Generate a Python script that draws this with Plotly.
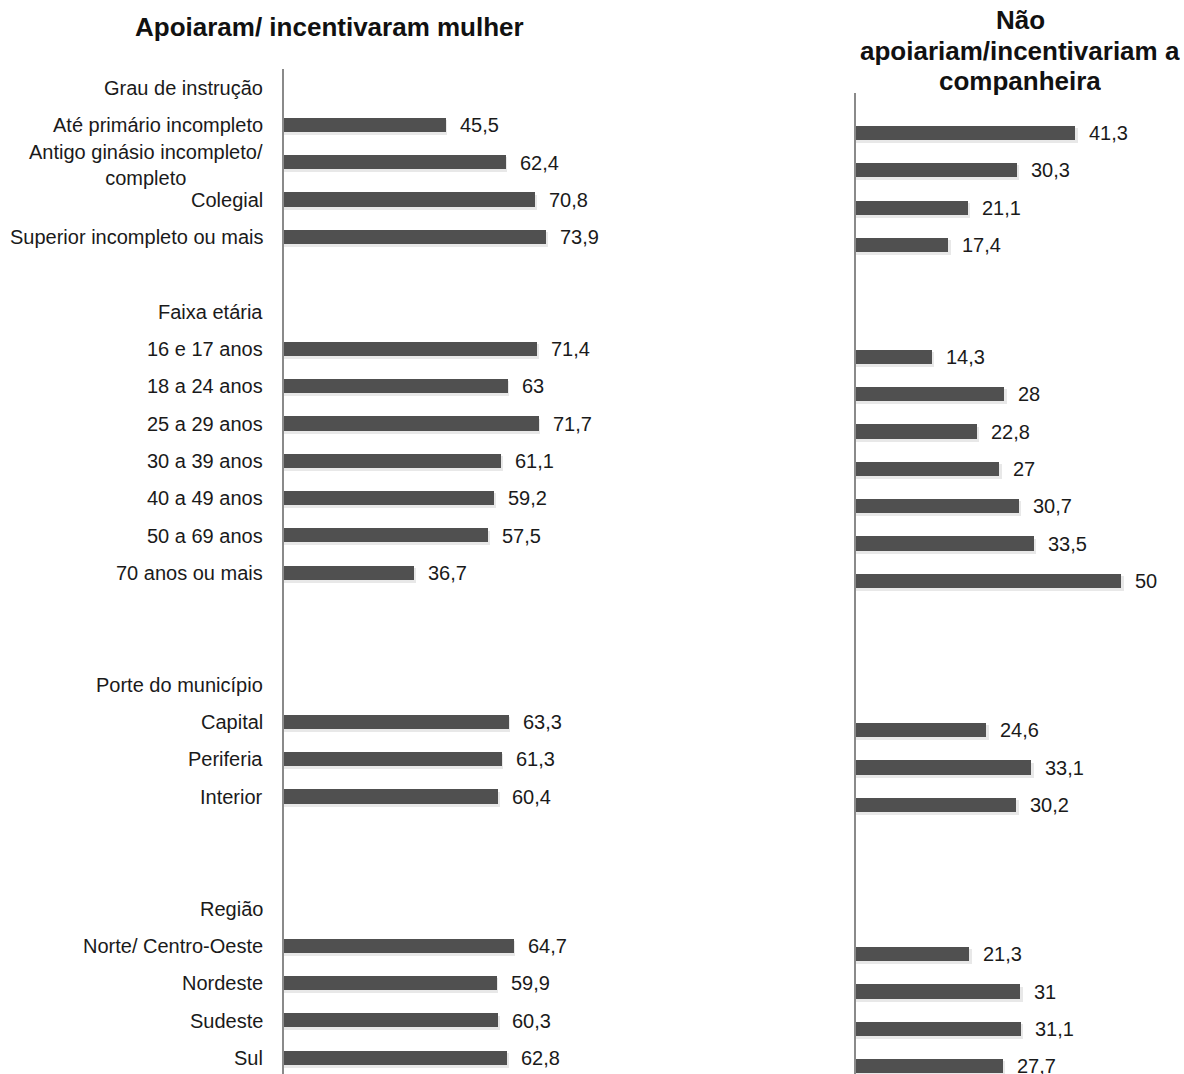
import plotly.graph_objects as go

W, H = 1184, 1074

# Row labels (section headers and blank spacer rows included)
categorias = [
    "Grau de instrução", "Até primário incompleto", "Antigo ginásio incompleto/<br>completo",
    "Colegial", "Superior incompleto ou mais", "",
    "Faixa etária", "16 e 17 anos", "18 a 24 anos", "25 a 29 anos", "30 a 39 anos",
    "40 a 49 anos", "50 a 69 anos", "70 anos ou mais", "", "",
    "Porte do município", "Capital", "Periferia", "Interior", "", "",
    "Região", "Norte/ Centro-Oeste", "Nordeste", "Sudeste", "Sul",
]

# Percentages per row (None for header / spacer rows)
apoiaram = [None, 45.5, 62.4, 70.8, 73.9, None,
            None, 71.4, 63, 71.7, 61.1, 59.2, 57.5, 36.7, None, None,
            None, 63.3, 61.3, 60.4, None, None,
            None, 64.7, 59.9, 60.3, 62.8]
nao_apoiariam = [None, 41.3, 30.3, 21.1, 17.4, None,
                 None, 14.3, 28, 22.8, 27, 30.7, 33.5, 50, None, None,
                 None, 24.6, 33.1, 30.2, None, None,
                 None, 21.3, 31, 31.1, 27.7]

titulo_esq = ["Apoiaram/ incentivaram mulher"]
titulo_dir = ["Não", "apoiariam/incentivariam a", "companheira"]

FONT = "Liberation Sans, Arial, sans-serif"
BAR = "#505050"
SHADOW = "rgba(0,0,0,0.09)"
TXT = "#1a1a1a"
rows = list(range(len(categorias)))


def fmt(v):
    s = f"{v:.1f}".replace(".", ",")
    return s[:-2] if s.endswith(",0") else s


def panel(values, xa, ya):
    ys = [r for r, v in zip(rows, values) if v is not None]
    xs = [v for v in values if v is not None]
    shadow = go.Bar(x=[v + 0.5 for v in xs], y=[y + 0.07 for y in ys], orientation="h",
                    width=0.40, marker=dict(color=SHADOW, line=dict(width=0)),
                    xaxis=xa, yaxis=ya, hoverinfo="skip", showlegend=False)
    bars = go.Bar(x=xs, y=ys, orientation="h", width=0.38,
                  marker=dict(color=BAR, line=dict(width=0)),
                  xaxis=xa, yaxis=ya, showlegend=False)
    return [shadow, bars], list(zip(xs, ys))


fig = go.Figure()
tr_l, pts_l = panel(apoiaram, "x", "y")
tr_r, pts_r = panel(nao_apoiariam, "x2", "y2")
for t in tr_l + tr_r:
    fig.add_trace(t)

annotations = []
# Value labels to the right of each bar
for (v, y), xr, yr in [(p, "x", "y") for p in pts_l] + [(p, "x2", "y2") for p in pts_r]:
    annotations.append(dict(x=v, y=y, xref=xr, yref=yr, text=fmt(v), showarrow=False,
                            xanchor="left", yanchor="middle", xshift=12,
                            font=dict(family=FONT, size=20, color=TXT)))

# Category labels on the left panel (multi-line labels centred line by line)
for r, lab in zip(rows, categorias):
    if not lab:
        continue
    annotations.append(dict(x=0, y=r + (0.07 if "<br>" in lab else 0), xref="x", yref="y",
                            text=lab, showarrow=False, xanchor="right", yanchor="middle",
                            xshift=-19, align="center",
                            font=dict(family=FONT, size=20, color=TXT)))

# Panel titles, one annotation per line
for i, line in enumerate(titulo_esq):
    annotations.append(dict(x=329 / W, y=1 - (27 + 31 * i) / H, xref="paper", yref="paper",
                            text=f"<b>{line}</b>", showarrow=False, xanchor="center", yanchor="middle",
                            font=dict(family=FONT, size=26, color="#111")))
for i, line in enumerate(titulo_dir):
    annotations.append(dict(x=1020 / W, y=1 - (20 + 30.5 * i) / H, xref="paper", yref="paper",
                            text=f"<b>{line}</b>", showarrow=False, xanchor="center", yanchor="middle",
                            height=30, font=dict(family=FONT, size=26, color="#111")))

axis_common = dict(showgrid=False, zeroline=False, showticklabels=False, ticks="")
fig.update_layout(
    width=W, height=H,
    margin=dict(l=0, r=0, t=0, b=0),
    paper_bgcolor="white", plot_bgcolor="white",
    barmode="overlay", bargap=0,
    xaxis=dict(domain=[284 / W, 639 / W], range=[0, 100], visible=False),
    yaxis=dict(domain=[0, (H - 69.3) / H], range=[26.43, -0.5], showline=True,
               linecolor="#8a8a8a", linewidth=2, **axis_common),
    xaxis2=dict(domain=[856 / W, 1174 / W], range=[0, 60], visible=False),
    yaxis2=dict(domain=[0, (H - 93) / H], range=[26.21, -0.07], anchor="x2", showline=True,
                linecolor="#8a8a8a", linewidth=1.5, **axis_common),
    annotations=annotations,
)

fig.write_html("out.html")
